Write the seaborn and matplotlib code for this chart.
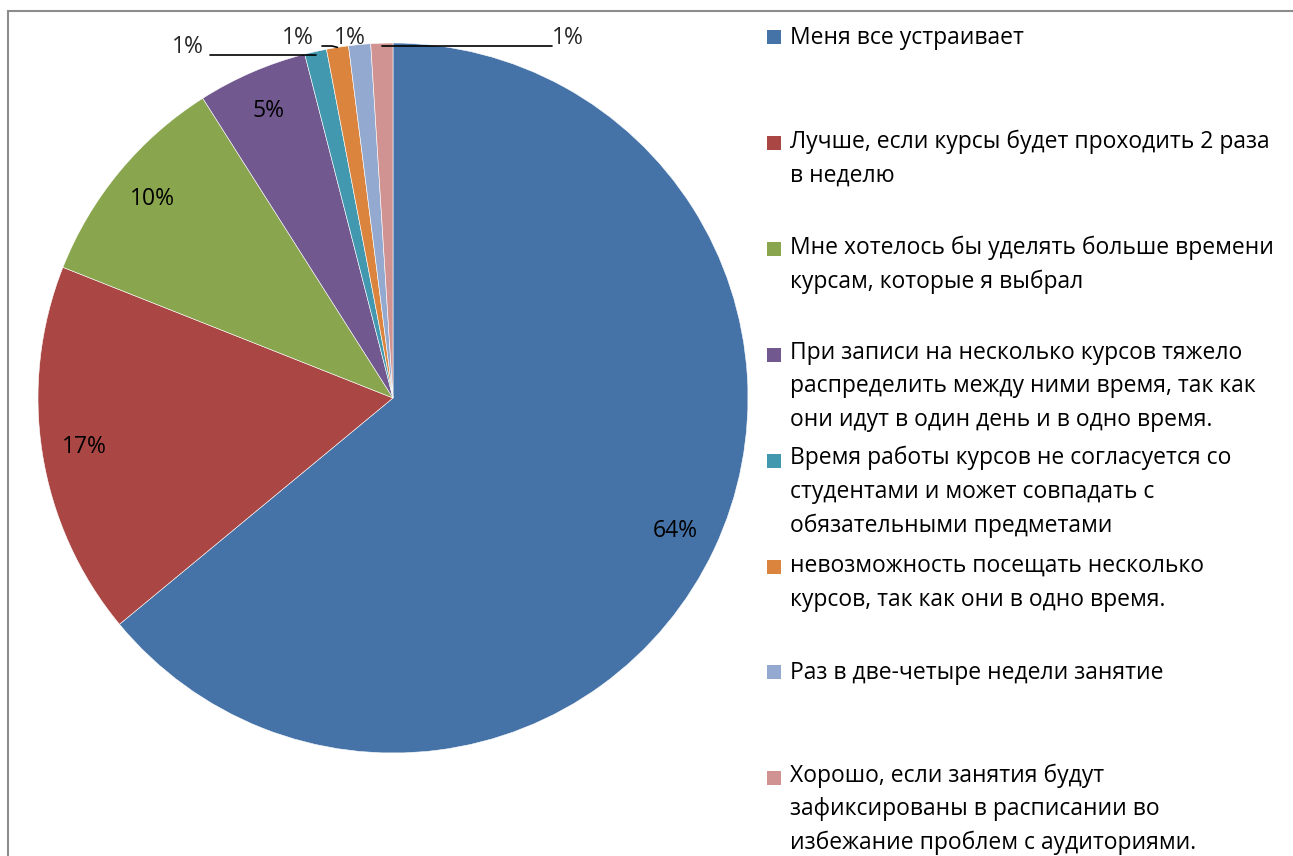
import numpy as np
import matplotlib
matplotlib.use("Agg")
import matplotlib.pyplot as plt
import seaborn as sns
from matplotlib.patches import Rectangle

categories = [
    "Меня все устраивает",
    "Лучше, если курсы будет проходить 2 раза\nв неделю",
    "Мне хотелось бы уделять больше времени\nкурсам, которые я выбрал",
    "При записи на несколько курсов тяжело\nраспределить между ними время, так как\nони идут в один день и в одно время.",
    "Время работы курсов не согласуется со\nстудентами и может совпадать с\nобязательными предметами",
    "невозможность посещать несколько\nкурсов, так как они в одно время.",
    "Раз в две-четыре недели занятие",
    "Хорошо, если занятия будут\nзафиксированы в расписании во\nизбежание проблем с аудиториями.",
]
shares = [64, 17, 10, 5, 1, 1, 1, 1]
colors = ["#4572A7", "#AA4643", "#89A54E", "#71588F",
          "#4198AF", "#DB843D", "#93A9CF", "#D19392"]

sns.set_theme(style="white")
plt.rcParams["font.family"] = ["Open Sans", "DejaVu Sans"]
FS = 16.5
LEG_LS = 1.53
LINE_PX = 32

W, H = 1293, 856
fig = plt.figure(figsize=(W / 100, H / 100), dpi=100)
fig.patch.set_facecolor("white")

# chart area border (only top and left visible)
fig.add_artist(Rectangle((8 / W, -0.1), 1.2, 1 - 11 / H + 0.1, transform=fig.transFigure,
                         fill=False, edgecolor="#8c8c8c", linewidth=1.5))

cx, cy, r = 393, 398, 355
ax = fig.add_axes([(cx - r) / W, (H - cy - r) / H, 2 * r / W, 2 * r / H])

wedges, _ = ax.pie(shares, colors=colors, startangle=90, counterclock=False, radius=1,
                   wedgeprops=dict(edgecolor="white", linewidth=0.4))
ax.set_xlim(-1, 1)
ax.set_ylim(-1, 1)
ax.axis("off")

def px(x, y):
    return ((x - cx) / r, (cy - y) / r)

# inside labels for the big slices
for w, v in zip(wedges[:4], shares[:4]):
    mid = np.deg2rad((w.theta1 + w.theta2) / 2)
    ax.text(0.88 * np.cos(mid), 0.88 * np.sin(mid), f"{v}%", ha="center", va="center",
            fontsize=FS, color="black")

# outside labels for the small slices
def edge(w):
    mid = np.deg2rad((w.theta1 + w.theta2) / 2)
    return np.cos(mid), np.sin(mid)

small = wedges[4:]
vals = shares[4:]
# teal
ex, ey = edge(small[0])
ax.text(*px(188, 47), f"{vals[0]}%", ha="center", va="center", fontsize=FS)
ax.plot([px(210, 55)[0], ex], [px(210, 55)[1], px(210, 55)[1]], color="black", lw=1.2,
        clip_on=False)
# orange
ex, ey = edge(small[1])
ax.text(*px(298, 38), f"{vals[1]}%", ha="center", va="center", fontsize=FS)
p1, p2 = px(322, 46), px(332, 46)
ax.plot([p1[0], p2[0], ex], [p1[1], p2[1], ey], color="black", lw=1.2, clip_on=False)
# light blue
ax.text(*px(350, 38), f"{vals[2]}%", ha="center", va="center", fontsize=FS)
# pink
ex, ey = edge(small[3])
ax.text(*px(568, 38), f"{vals[3]}%", ha="center", va="center", fontsize=FS)
p1 = px(552, 46)
ax.plot([ex, p1[0]], [p1[1], p1[1]], color="black", lw=1.2, clip_on=False)

# legend
for i, (lab, col) in enumerate(zip(categories, colors)):
    base = 44 + i * 105.9
    n = lab.count("\n")
    fig.add_artist(Rectangle((767 / W, 1 - base / H), 14 / W, 14 / H,
                             transform=fig.transFigure, facecolor=col, edgecolor="none"))
    fig.text(790 / W, 1 - (base + n * LINE_PX) / H, lab, ha="left", va="baseline",
             fontsize=FS, linespacing=LEG_LS, color="black")

fig.savefig("out.png", dpi=100, facecolor="white")
